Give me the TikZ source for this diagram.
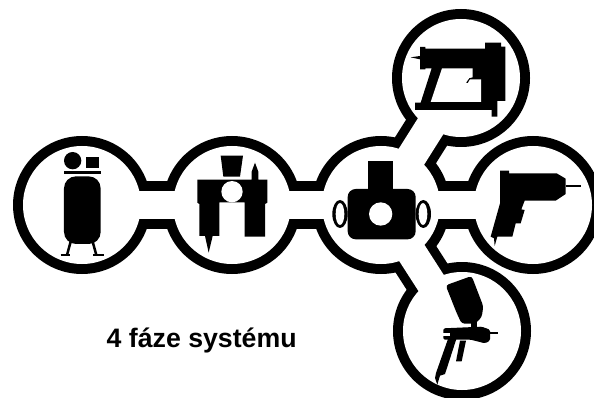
\documentclass[tikz,border=0pt]{standalone}
\usepackage{fontspec}
\setmainfont{Liberation Sans}
\begin{document}
\begin{tikzpicture}[x=1pt,y=-1pt,line join=miter,
  zoomed/.style={shift={#1},scale=1/3},
  label text/.style={font=\bfseries\fontsize{26.7}{29}\selectfont,inner sep=0pt}]
\useasboundingbox (0,0) rectangle (594,398);
\fill[white] (0,0) rectangle (594,398);
\clip (0,0) rectangle (594,398);
% coordinates of the six hubs
\coordinate (ca) at (82,205);
\coordinate (cb) at (232,205);
\coordinate (cc) at (381,205);
\coordinate (cd) at (533,205);
\coordinate (ct) at (461,78);
\coordinate (cs) at (462,331);
% black layer
\foreach \p in {ca,cb,cc,cd,ct,cs} \fill[black] (\p) circle (69);
\draw[black,line width=47pt] (ca) -- (cd);
\draw[black,line width=48.5pt] (cc) -- (ct);
\draw[black,line width=48.5pt] (cc) -- (cs);
% white layer
\draw[white,line width=28pt] (ca) -- (cd);
\draw[white,line width=30pt] (cc) -- (ct);
\draw[white,line width=30pt] (cc) -- (cs);
\foreach \p in {ca,cb,cc,cd,ct,cs} \fill[white] (\p) circle (59);
% compressor
\begin{scope}[zoomed={(0,130)}]
\fill (218,92) circle (26);
\fill (257,80) rectangle (297,115);
\fill (192,122) rectangle (302,133);
\fill[rounded corners=12pt] (192,139) rectangle (302,342);
\draw[line width=2.5pt] (212,335) -- (201,375) (278,335) -- (289,375);
\draw[line width=1.7pt] (182,375) -- (209,375) (280,375) -- (312,375);
\end{scope}
% filter unit
\begin{scope}[zoomed={(170,130)}]
\fill (152,77) -- (219,77) -- (210,140) -- (160,140) -- cycle;
\fill (82,149) -- (245,149) -- (245,125) -- (255,98) -- (265,125) -- (265,149) -- (292,149) -- (292,218) -- (285,222) -- (285,320) -- (224,320) -- (224,217) -- (148,217) -- (148,318) -- (128,318) -- (116,368) -- (105,318) -- (88,318) -- (88,222) -- (82,218) -- cycle;
\fill[white] (186,185) circle (32);
\end{scope}
% hub
\begin{scope}[zoomed={(300,130)}]
\fill (120,252) ellipse (23 and 42);
\fill (370,252) ellipse (23 and 42);
\fill (205,94) rectangle (280,180);
\fill[rounded corners=8pt] (143,177) rectangle (347,328);
\fill[white] (242,252) circle (35);
\fill[white] (120,252) ellipse (13 and 33);
\fill[white] (369,252) ellipse (13 and 33);
\end{scope}
% stapler
\begin{scope}[zoomed={(380,0)}]
\fill (120,141) -- (136,141) -- (136,146) -- (315,146) -- (315,128) -- (363,128) -- (363,140) -- (376,140) -- (376,303) -- (352,303) -- (352,350) -- (335,350) -- (335,330) -- (105,330) -- (105,308) -- (122,308) -- (155,205) -- (136,205) -- (136,208) -- (120,208) -- (120,178) -- (92,172) -- (120,168) -- cycle;
\fill[white] (186,205) -- (278,205) -- (278,232) -- (268,234) -- (258,248) -- (263,250) -- (270,238) -- (303,238) -- (303,306) -- (152,306) -- cycle;
\end{scope}
% drill
\begin{scope}[zoomed={(454,120)}]
\fill (138,152) -- (165,152) -- (165,160) -- (308,160) -- (335,176) -- (335,222) -- (305,242) -- (212,242) -- (202,268) -- (212,270) -- (200,310) -- (185,310) -- (175,350) -- (130,350) -- (122,378) -- (120,355) -- (110,350) -- (138,250) -- cycle;
\draw[line width=1.3pt] (335,198) -- (382,198);
\end{scope}
% spray gun
\begin{scope}[zoomed={(380,258)}]
\fill[rounded corners=3pt] (197,82) -- (275,54) -- (310,145) -- (305,178) -- (285,197) -- (245,197) -- (230,165) -- cycle;
\fill (272,190) rectangle (290,210);
\fill[rounded corners=1.5pt] (190,211) -- (305,206) -- (330,215) -- (330,248) -- (315,256) -- (272,245) -- (190,245) -- cycle;
\fill (205,240) -- (230,240) -- (195,348) -- (180,353) -- (172,380) -- (165,360) -- (168,345) -- cycle;
\fill[white] (190,226) rectangle (210,233);
\draw[line width=2pt] (330,226) -- (353,226);
\fill (240,248) -- (258,248) -- (245,310) -- (228,310) -- cycle;
\end{scope}
\node[label text,anchor=base west] (caption) at (106.5,347) {4 fáze systému};
\end{tikzpicture}
\end{document}
